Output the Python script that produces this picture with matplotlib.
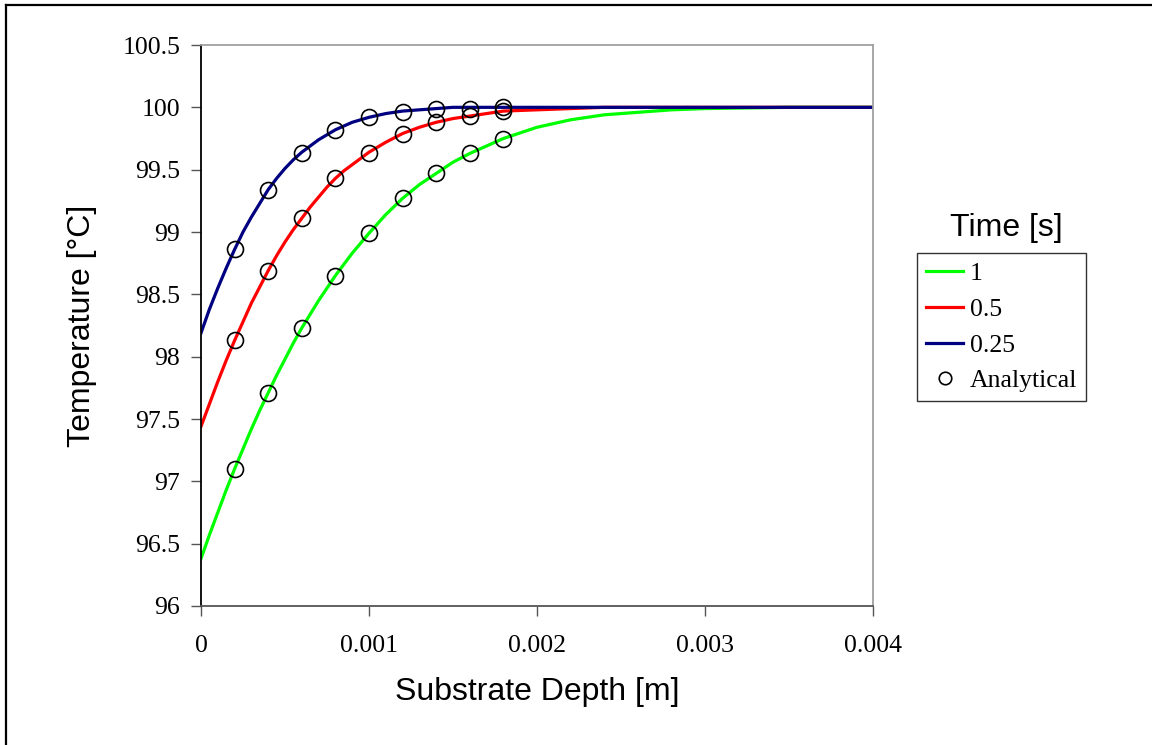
import matplotlib
matplotlib.use("Agg")
import matplotlib.pyplot as plt
from matplotlib.lines import Line2D
from matplotlib.ticker import FuncFormatter

# depth grid for the simulated curves [m]
depth = [0.0, 0.00005, 0.0001, 0.00015, 0.0002, 0.00025, 0.0003, 0.00035,
         0.0004, 0.00045, 0.0005, 0.00055, 0.0006, 0.00065, 0.0007, 0.00075,
         0.0008, 0.00085, 0.0009, 0.00095, 0.0010, 0.0011, 0.0012, 0.0013,
         0.0014, 0.0015, 0.0016, 0.0017, 0.0018, 0.0020, 0.0022, 0.0024,
         0.0026, 0.0028, 0.0030, 0.0035, 0.0040]

temp_1s = [96.38, 96.57, 96.75, 96.93, 97.10, 97.26, 97.42, 97.57,
           97.71, 97.85, 97.98, 98.11, 98.23, 98.34, 98.45, 98.55,
           98.65, 98.74, 98.83, 98.91, 98.99, 99.14, 99.27, 99.38,
           99.47, 99.56, 99.63, 99.69, 99.75, 99.84, 99.90, 99.94,
           99.96, 99.98, 99.99, 100.0, 100.0]
temp_05s = [97.44, 97.62, 97.80, 97.97, 98.13, 98.28, 98.43, 98.56,
            98.69, 98.81, 98.92, 99.02, 99.11, 99.20, 99.28, 99.36,
            99.43, 99.49, 99.54, 99.59, 99.64, 99.72, 99.79, 99.84,
            99.88, 99.91, 99.93, 99.95, 99.97, 99.98, 99.99, 100.0,
            100.0, 100.0, 100.0, 100.0, 100.0]
temp_025s = [98.19, 98.38, 98.55, 98.71, 98.86, 99.00, 99.12, 99.23,
             99.34, 99.43, 99.51, 99.58, 99.64, 99.69, 99.74, 99.78,
             99.82, 99.85, 99.88, 99.90, 99.92, 99.95, 99.97, 99.98,
             99.99, 100.0, 100.0, 100.0, 100.0, 100.0, 100.0, 100.0,
             100.0, 100.0, 100.0, 100.0, 100.0]

# analytical solution points
depth_an = [0.0002, 0.0004, 0.0006, 0.0008, 0.0010, 0.0012, 0.0014, 0.0016, 0.0018]
an_1s = [97.10, 97.71, 98.23, 98.65, 98.99, 99.27, 99.47, 99.63, 99.75]
an_05s = [98.13, 98.69, 99.11, 99.43, 99.63, 99.79, 99.88, 99.93, 99.97]
an_025s = [98.86, 99.34, 99.63, 99.82, 99.92, 99.96, 99.99, 99.99, 100.0]

labels = ["1", "0.5", "0.25"]
colors = ["#00ff00", "#ff0000", "#000080"]

serif = "Liberation Serif"
sans = "Liberation Sans"

fig = plt.figure(figsize=(11.52, 7.45), dpi=100)
ax = fig.add_axes([201 / 1152, 1 - 606 / 745, 672 / 1152, 561 / 745])

for y, lab, c in zip([temp_1s, temp_05s, temp_025s], labels, colors):
    ax.plot(depth, y, color=c, lw=2.3, label=lab, solid_joinstyle="round")

for y in [an_1s, an_05s, an_025s]:
    ax.plot(depth_an, y, ls="none", marker="o", ms=11.5, mfc="none",
            mec="black", mew=1.2, zorder=5)

ax.set_xlim(0, 0.004)
ax.set_ylim(96, 100.5)
ax.set_xticks([0, 0.001, 0.002, 0.003, 0.004])
ax.set_yticks([96 + 0.5 * i for i in range(10)])
ax.xaxis.set_major_formatter(FuncFormatter(lambda v, p: "%g" % v))
ax.yaxis.set_major_formatter(FuncFormatter(lambda v, p: "%g" % v))
ax.tick_params(direction="out", length=7, width=1, colors="#555555",
               labelcolor="black", labelsize=18.5)
ax.tick_params(axis="y", pad=8)
ax.tick_params(axis="x", pad=14)
for t in ax.get_xticklabels() + ax.get_yticklabels():
    t.set_fontfamily(serif)

ax.spines["left"].set_color("black")
ax.spines["bottom"].set_color("#555555")
ax.spines["top"].set_color("#a0a0a0")
ax.spines["right"].set_color("#a0a0a0")
for s in ax.spines.values():
    s.set_linewidth(1.3)

ax.set_xlabel("Substrate Depth [m]", fontsize=23, family=sans, labelpad=14)
ax.set_ylabel("Temperature [\u00b0C]", fontsize=23, family=sans, labelpad=18)

# legend (title drawn outside the box, like the original)
handles = [Line2D([], [], color=c, lw=2.3) for c in colors]
handles.append(Line2D([], [], ls="none", marker="o", ms=9, mfc="none",
                      mec="black", mew=1.2))
leg = fig.legend(handles, labels + ["Analytical"], loc="upper left",
                 bbox_to_anchor=(917 / 1152, 1 - 253 / 745),
                 prop={"family": serif, "size": 18.5}, frameon=True,
                 fancybox=False, edgecolor="black", borderpad=0.35,
                 handlelength=1.45, handletextpad=0.25, labelspacing=0.5,
                 borderaxespad=0)
leg.get_frame().set_linewidth(1.0)
fig.text(1006 / 1152, 1 - 228 / 745, "Time [s]", family=sans, fontsize=23,
         ha="center", va="center")

# outer chart frame (left and top edges visible)
fig.add_artist(Line2D([6 / 1152, 6 / 1152], [0, 1 - 5 / 745], color="black",
                      lw=1.6, transform=fig.transFigure))
fig.add_artist(Line2D([6 / 1152, 1], [1 - 5 / 745, 1 - 5 / 745], color="black",
                      lw=1.6, transform=fig.transFigure))

fig.savefig("out.png", dpi=100)
